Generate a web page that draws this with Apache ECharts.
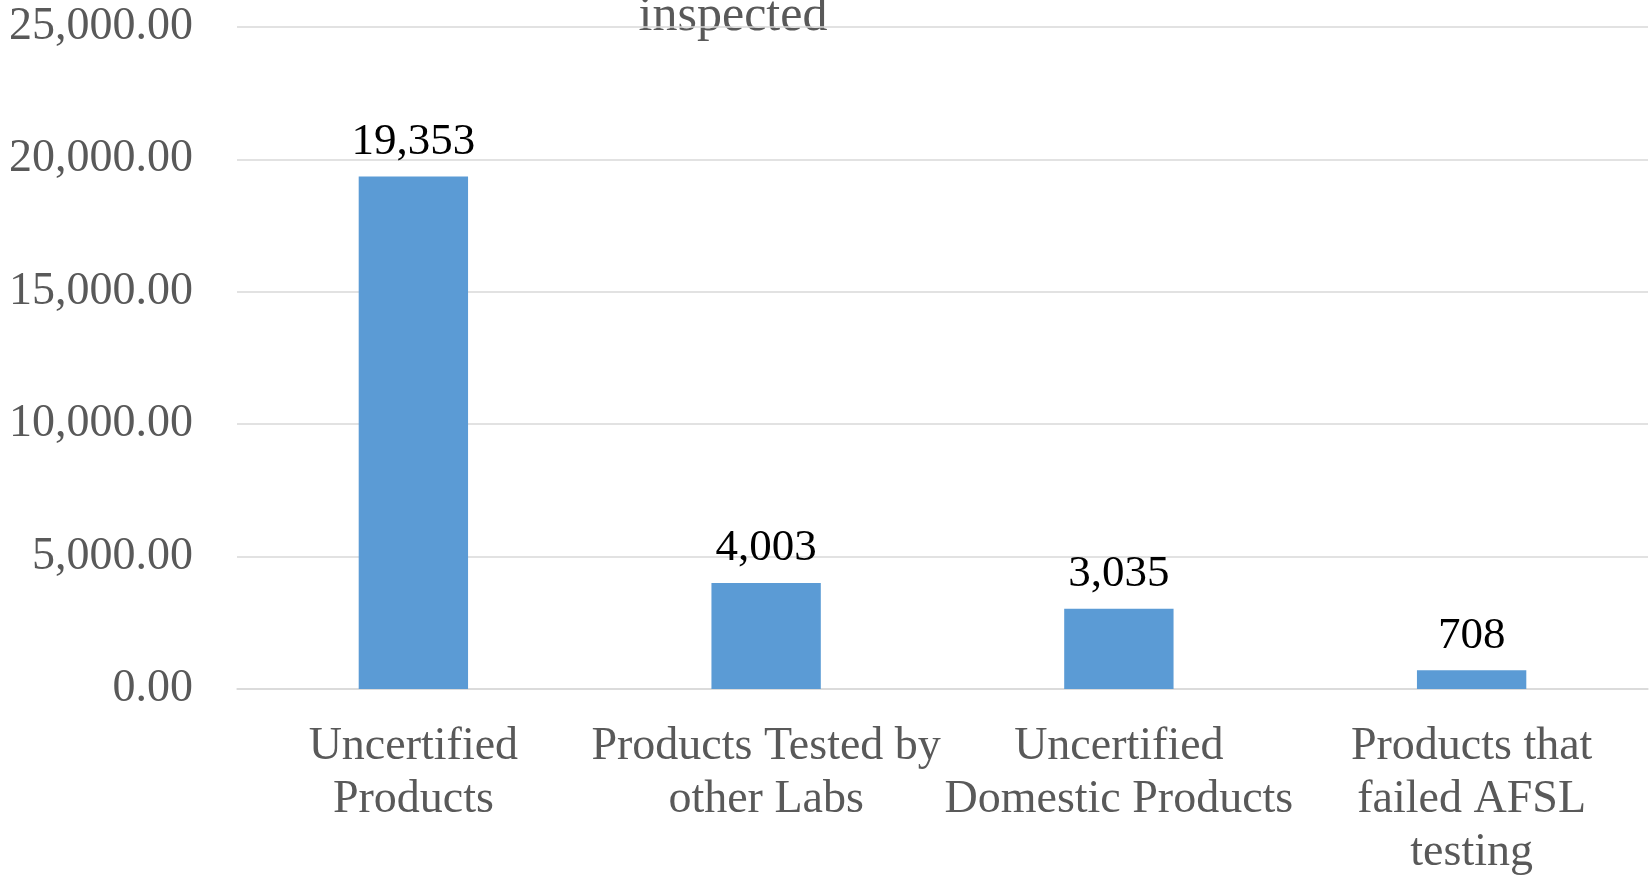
<!DOCTYPE html>
<html>
<head>
<meta charset="utf-8">
<script src="https://cdn.jsdelivr.net/npm/echarts@6/dist/echarts.min.js"></script>
<style>
html,body{margin:0;padding:0;background:#fff;}
#chart{width:1650px;height:879px;}
</style>
</head>
<body>
<div id="chart"></div>
<script>
const categories = ['Uncertified\nProducts', 'Products Tested by\nother Labs', 'Uncertified\nDomestic Products', 'Products that\nfailed AFSL\ntesting'];
const values = [19353, 4003, 3035, 708];
const yMin = 0, yMax = 25000, yInterval = 5000;
const titleText = 'inspected';

const FONT = "'Liberation Serif', 'Times New Roman', serif";
const chart = echarts.init(document.getElementById('chart'));
chart.setOption({
  animation: false,
  backgroundColor: '#ffffff',
  grid: { left: 237, right: 2, top: 27, bottom: 183, containLabel: false },
  graphic: [{
    type: 'text', x: 733, y: 42,
    style: { text: titleText, fontFamily: FONT, fontSize: 50, fill: '#595959', textAlign: 'center', textVerticalAlign: 'bottom' }
  }],
  xAxis: {
    type: 'category', data: categories,
    axisLine: { show: true, lineStyle: { color: '#d9d9d9', width: 1.5 } },
    axisTick: { show: false },
    axisLabel: { interval: 0, margin: 31, fontFamily: FONT, fontSize: 46, lineHeight: 53, color: '#595959' }
  },
  yAxis: {
    type: 'value', min: yMin, max: yMax, interval: yInterval,
    axisLine: { show: false }, axisTick: { show: false },
    splitLine: { lineStyle: { color: '#d9d9d9', width: 1.5 } },
    axisLabel: {
      margin: 44, fontFamily: FONT, fontSize: 46, color: '#595959', padding: [6, 0, 0, 0],
      formatter: v => v.toLocaleString('en-US', { minimumFractionDigits: 2, maximumFractionDigits: 2 })
    }
  },
  series: [{
    type: 'bar', data: values, barWidth: '31%',
    itemStyle: { color: '#5b9bd5' },
    label: {
      show: true, position: 'top', distance: 12,
      fontFamily: FONT, fontSize: 45, color: '#000000',
      formatter: p => p.value.toLocaleString('en-US')
    }
  }]
});
</script>
</body>
</html>
